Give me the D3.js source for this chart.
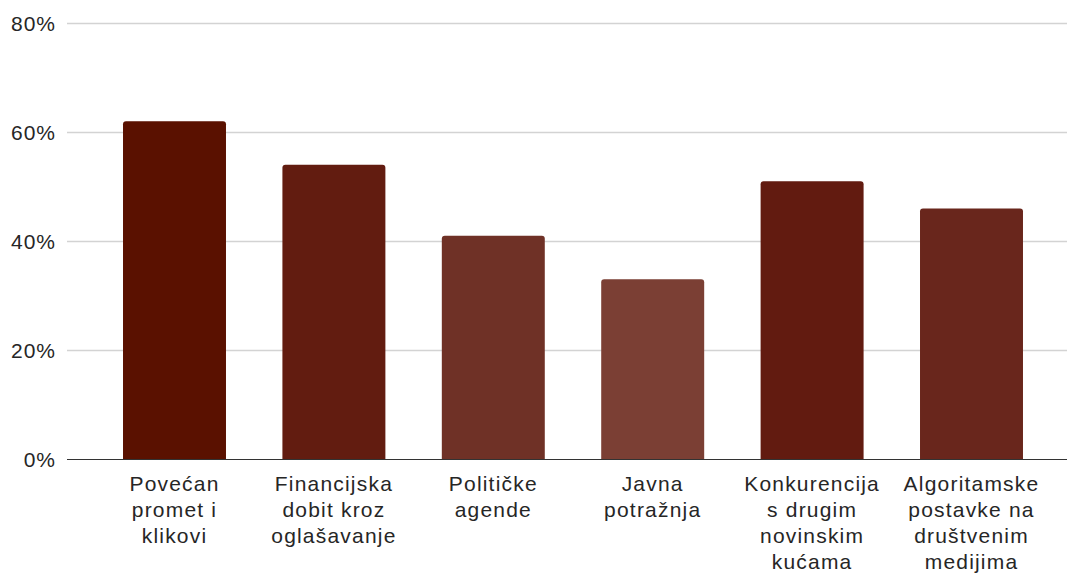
<!DOCTYPE html>
<html>
<head>
<meta charset="utf-8">
<script src="https://cdn.jsdelivr.net/npm/d3@7"></script>
<style>
  body { margin: 0; background: #fff; }
  text { font-family: "Liberation Sans", Arial, sans-serif; fill: #262626; }
</style>
</head>
<body>
<div id="chart"></div>
<script>
// data
var categories = [
  ["Povećan", "promet i", "klikovi"],
  ["Financijska", "dobit kroz", "oglašavanje"],
  ["Političke", "agende"],
  ["Javna", "potražnja"],
  ["Konkurencija", "s drugim", "novinskim", "kućama"],
  ["Algoritamske", "postavke na", "društvenim", "medijima"]
];
var values = [62, 54, 41, 33, 51, 46];
var barColors = ["#5a1100", "#621c10", "#6f3126", "#7b3f34", "#621b10", "#69261c"];
var yTicks = [0, 20, 40, 60, 80];

var W = 1067, H = 573;
var svg = d3.select("#chart").append("svg")
    .attr("width", W)
    .attr("height", H);

// scales
var y = d3.scaleLinear().domain([0, 80]).range([459.3, 23]);
var x = d3.scaleBand()
    .domain(d3.range(values.length))
    .range([94.8, 1051.2])
    .paddingInner(0.354)
    .paddingOuter(0.177);

// gridlines
svg.append("g")
    .selectAll("line")
    .data(yTicks.filter(function(d) { return d > 0; }))
    .enter()
    .append("line")
    .attr("x1", 67).attr("x2", W)
    .attr("y1", function(d) { return Math.round(y(d)) + 0.5; })
    .attr("y2", function(d) { return Math.round(y(d)) + 0.5; })
    .attr("stroke", "#d3d3d3")
    .attr("stroke-width", 1.3);

// y labels
svg.append("g")
    .selectAll("text")
    .data(yTicks)
    .enter()
    .append("text")
    .attr("x", 56)
    .attr("y", function(d) { return y(d); })
    .attr("dy", "0.36em")
    .attr("text-anchor", "end")
    .style("font-size", "21px")
    .style("letter-spacing", "1px")
    .text(function(d) { return d + "%"; });

// bars with slightly rounded tops
var r = 3;
svg.append("g")
    .selectAll("path")
    .data(values)
    .enter()
    .append("path")
    .attr("fill", function(d, i) { return barColors[i]; })
    .attr("d", function(d, i) {
        var x0 = x(i), w = x.bandwidth(), y0 = y(d), yb = y(0);
        return "M" + x0 + "," + yb +
            "V" + (y0 + r) +
            "Q" + x0 + "," + y0 + " " + (x0 + r) + "," + y0 +
            "H" + (x0 + w - r) +
            "Q" + (x0 + w) + "," + y0 + " " + (x0 + w) + "," + (y0 + r) +
            "V" + yb + "Z";
    });

// baseline
svg.append("line")
    .attr("x1", 67).attr("x2", W)
    .attr("y1", 459.5).attr("y2", 459.5)
    .attr("stroke", "#333")
    .attr("stroke-width", 1.2);

// category labels
var lab = svg.append("g")
    .selectAll("text")
    .data(categories)
    .enter()
    .append("text")
    .attr("x", function(d, i) { return x(i) + x.bandwidth() / 2; })
    .attr("y", 491)
    .attr("text-anchor", "middle")
    .style("font-size", "21px")
    .style("letter-spacing", "1.2px");

lab.selectAll("tspan")
    .data(function(d) { return d; })
    .enter()
    .append("tspan")
    .attr("x", function() { return d3.select(this.parentNode).attr("x"); })
    .attr("dy", function(d, j) { return j === 0 ? 0 : 26; })
    .text(function(d) { return d; });
</script>
</body>
</html>
